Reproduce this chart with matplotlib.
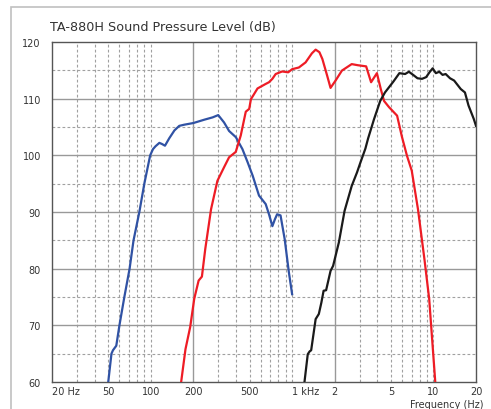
import matplotlib.pyplot as plt
from matplotlib.patches import Rectangle

# woofer (blue)
woofer_hz = [50, 52.7, 54, 57, 60, 65, 70.8, 75.5, 83, 90, 99, 103.7, 108, 115, 120, 126,
             135, 147, 159, 172, 200, 240, 274, 300, 330, 358, 400, 445, 484, 526,
             583, 650, 686, 725, 755, 783, 828, 886, 948, 1000]
woofer_db = [60, 65, 65.6, 66.4, 70, 75, 80, 85, 90, 95, 100, 101.1, 101.6, 102.2, 102, 101.7,
             103, 104.4, 105.2, 105.4, 105.7, 106.3, 106.7, 107.1, 105.8, 104.3, 103.2, 101.1, 98.8, 96.4,
             92.9, 91.4, 89.6, 87.5, 88.7, 89.6, 89.4, 85.2, 79.4, 75.5]

# mid (red)
mid_hz = [164, 176, 190, 203, 218, 230, 243, 267, 296, 330, 358, 399, 433, 470, 497, 511,
          569, 650, 686, 725, 765, 850, 938, 1000, 1116, 1245, 1380, 1467, 1560, 1637,
          1770, 1870, 2030, 2250, 2640, 2920, 3340, 3620, 3980, 4240, 4470, 4850, 5530,
          5980, 6500, 7020, 7770, 8630, 9330, 10300]
mid_db = [60, 65.8, 69.7, 74.7, 77.9, 78.6, 83.5, 90.5, 95.5, 97.9, 99.65, 100.6, 103.5, 107.7, 108.2, 109.9,
          111.8, 112.6, 112.9, 113.5, 114.35, 114.8, 114.65, 115.2, 115.5, 116.4, 118.0, 118.65, 118.2, 117,
          114.05, 111.9, 113.2, 114.95, 116.1, 115.9, 115.7, 112.9, 114.5, 111.7, 109.6, 108.5, 107,
          103.3, 99.9, 97.3, 90.5, 81.7, 74.65, 60]

# tweeter (black)
tw_hz = [1223, 1290, 1330, 1364, 1467, 1545, 1610, 1670, 1740, 1870, 1950, 2140, 2350, 2640,
         2880, 3020, 3300, 3450, 3800, 4200, 4540, 5200, 5740, 6300, 6700, 7180, 7710, 8300,
         8880, 9370, 9870, 10400, 11000, 11600, 12200, 13100, 14000, 15600, 16700, 17700,
         19300, 20000]
tw_db = [60, 64.9, 65.4, 65.6, 71.1, 72, 74, 76.1, 76.2, 79.6, 80.5, 84.6, 90.2, 94.6,
         97, 98.5, 101.2, 103, 106.4, 109.6, 111.1, 113, 114.5, 114.35, 114.75, 114.2, 113.6, 113.5,
         113.8, 114.65, 115.35, 114.5, 114.75, 114.2, 114.35, 113.6, 113.2, 111.7, 111.1, 108.8,
         106.4, 105.2]

x_ticks = [20, 50, 100, 200, 500, 1000, 2000, 5000, 10000, 20000]
x_labels = ['20 Hz', '50', '100', '200', '500', '1 kHz', '2', '5', '10', '20']
y_ticks = [60, 70, 80, 90, 100, 110, 120]

major_x = [200, 2000]
minor_x = [30, 40, 50, 60, 70, 80, 90, 100,
           300, 400, 500, 600, 700, 800, 900, 1000,
           3000, 4000, 5000, 6000, 7000, 8000, 9000, 10000]
minor_y = [65, 75, 85, 95, 105, 115]

fig = plt.figure(figsize=(4.91, 4.10), dpi=100)
fig.patches.append(Rectangle((11 / 491, -0.1), 1.2, 1.1 - 8 / 410, transform=fig.transFigure,
                             fill=False, edgecolor='#c0c0c0', linewidth=1.2))

ax = fig.add_axes([52 / 491, 27 / 410, 424 / 491, 340 / 410])
ax.set_xscale('log')
ax.set_xlim(20, 20000)
ax.set_ylim(60, 120)

for x in minor_x:
    ax.axvline(x, color='#a0a0a0', lw=0.8, ls=(0, (2.5, 2)), zorder=1)
for x in major_x:
    ax.axvline(x, color='#999999', lw=1.0, zorder=1)
for y in minor_y:
    ax.axhline(y, color='#a0a0a0', lw=0.8, ls=(0, (2.5, 2)), zorder=1)
for y in y_ticks[1:-1]:
    ax.axhline(y, color='#999999', lw=1.0, zorder=1)

ax.plot(woofer_hz, woofer_db, color='#3052a4', lw=1.6, zorder=3)
ax.plot(mid_hz, mid_db, color='#ee1c25', lw=1.6, zorder=3)
ax.plot(tw_hz, tw_db, color='#1a1a1a', lw=1.6, zorder=3)

ax.minorticks_off()
ax.set_xticks(x_ticks)
ax.set_xticklabels(x_labels)
for lab in ax.get_xticklabels():
    if lab.get_text() in ('20 Hz', '1 kHz'):
        lab.set_horizontalalignment('left')
ax.set_yticks(y_ticks)
ax.tick_params(length=0, labelsize=7, colors='#333333')
ax.tick_params(axis='y', pad=8)
ax.tick_params(axis='x', pad=3)
for s in ax.spines.values():
    s.set_color('#555555')
    s.set_linewidth(1.0)

fig.text(50 / 491, 1 - 27 / 410, 'TA-880H Sound Pressure Level (dB)', fontsize=9.2,
         color='#333333', ha='left', va='center')
fig.text(484 / 491, 1 - 400 / 410, 'Frequency (Hz)', fontsize=7, color='#333333',
         ha='right', va='top')

fig.savefig('out.png', dpi=100)
